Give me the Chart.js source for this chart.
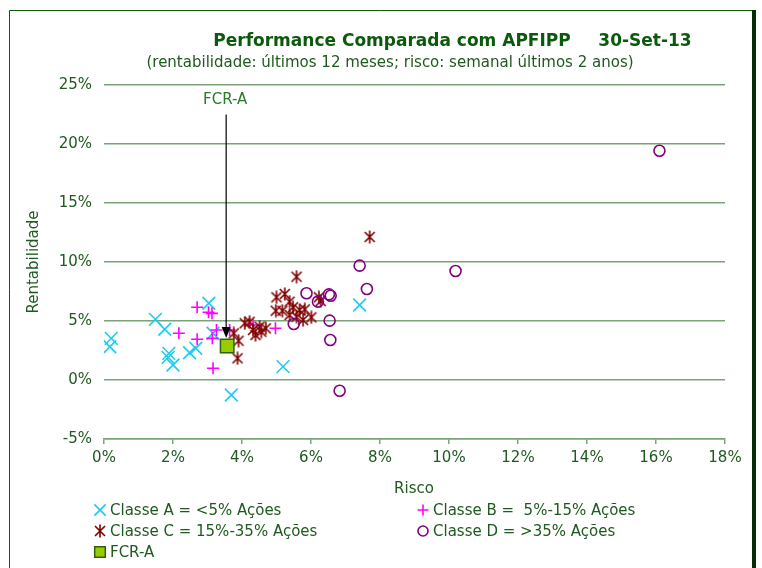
<!DOCTYPE html>
<html>
<head>
<meta charset="utf-8">
<script src="https://cdn.jsdelivr.net/npm/chart.js@4.4.0/dist/chart.umd.min.js"></script>
<style>
  html, body { margin: 0; padding: 0; background: #fff; }
  #wrap { width: 762px; height: 568px; position: relative; }
</style>
</head>
<body>
<div id="wrap"><canvas id="perfChart" width="762" height="568"></canvas></div>
<script>
// risco (%), rentabilidade (%)
var classeA = [[0.21, 3.53], [0.17, 2.82], [1.49, 5.14], [1.76, 4.30], [1.88, 2.26], [1.86, 1.92],
	[2.00, 1.27], [2.48, 2.31], [2.66, 2.69], [3.04, 6.50], [3.16, 3.96], [3.69, -1.27],
	[5.19, 1.13], [7.41, 6.36]];
var classeB = [[2.70, 6.16], [3.03, 5.74], [3.13, 5.65], [2.17, 3.96], [2.70, 3.45], [3.26, 4.24],
	[3.14, 3.53], [3.16, 0.99], [4.97, 4.38], [4.32, 4.66], [3.64, 4.24]];
var classeC = [[7.70, 12.12], [5.58, 8.75], [5.00, 7.01], [5.24, 7.29], [5.38, 6.64], [4.98, 5.87],
	[5.17, 5.87], [5.48, 6.16], [5.67, 5.93], [5.82, 5.99], [5.38, 5.51], [5.58, 5.36],
	[6.01, 5.31], [5.77, 5.08], [6.23, 7.01], [6.28, 6.69], [4.08, 4.81], [4.22, 4.94],
	[4.32, 4.24], [4.39, 3.81], [3.76, 3.96], [3.90, 3.33], [3.87, 1.84], [4.51, 4.52],
	[4.69, 4.38], [4.56, 4.09]];
var classeD = [[16.10, 19.43], [10.19, 9.24], [7.41, 9.69], [7.62, 7.71], [6.52, 7.26], [6.57, 7.14],
	[6.20, 6.64], [5.87, 7.35], [5.50, 4.75], [6.54, 5.03], [6.56, 3.39], [6.83, -0.91]];
var fcrA = [[3.57, 2.88]];

var xTicks = [0, 2, 4, 6, 8, 10, 12, 14, 16, 18];
var yTicks = [-5, 0, 5, 10, 15, 20, 25];

var legendLabels = ['Classe A = <5% Ações', 'Classe B =  5%-15% Ações', 'Classe C = 15%-35% Ações',
	'Classe D = >35% Ações', 'FCR-A'];

var txtGreen = '#1e5a1e';
var gridGreen = '#7aa37a';
var fontFam = '"DejaVu Sans"';

function toPoints(arr) {
	return arr.map(function (p) { return { x: p[0], y: p[1] }; });
}

// marcador estrela do excel (X com barra vertical)
function makeStar(color) {
	var c = document.createElement('canvas');
	c.width = 14; c.height = 14;
	var g = c.getContext('2d');
	g.strokeStyle = color;
	g.lineWidth = 1.6;
	g.beginPath();
	g.moveTo(2, 2); g.lineTo(12, 12);
	g.moveTo(12, 2); g.lineTo(2, 12);
	g.moveTo(7, 0.5); g.lineTo(7, 13.5);
	g.stroke();
	return c;
}
var starC = makeStar('#800000');

var datasets = [
	{ data: toPoints(classeA), pointStyle: 'crossRot', radius: 9, borderColor: '#1ecbf0', borderWidth: 1.6, order: 5 },
	{ data: toPoints(classeB), pointStyle: 'cross', radius: 6, borderColor: '#ff00ff', borderWidth: 1.6, order: 4 },
	{ data: toPoints(classeC), pointStyle: starC, radius: 7, borderColor: '#800000', order: 3 },
	{ data: toPoints(classeD), pointStyle: 'circle', radius: 5.5, borderColor: '#800080', backgroundColor: 'rgba(0,0,0,0)', borderWidth: 1.6, order: 2 },
	{ data: toPoints(fcrA), pointStyle: 'rect', radius: 9.5, borderColor: '#2f5f0f', backgroundColor: '#99cc00', borderWidth: 1.5, order: 1 }
];

var framePlugin = {
	id: 'frame',
	beforeDraw: function (chart) {
		var ctx = chart.ctx;
		ctx.save();
		ctx.strokeStyle = '#0b5a0b';
		ctx.lineWidth = 1;
		ctx.beginPath();
		ctx.moveTo(9.5, 568); ctx.lineTo(9.5, 10.5); ctx.lineTo(752, 10.5);
		ctx.stroke();
		ctx.fillStyle = '#062d06';
		ctx.fillRect(752, 10, 4, 558);
		// titulos
		ctx.fillStyle = '#0b5a0b';
		ctx.textBaseline = 'middle';
		ctx.textAlign = 'center';
		ctx.font = 'bold 17px ' + fontFam;
		ctx.fillText('Performance Comparada com APFIPP', 392, 42);
		ctx.fillText('30-Set-13', 645, 42);
		ctx.fillStyle = txtGreen;
		ctx.font = '15px ' + fontFam;
		ctx.fillText('(rentabilidade: últimos 12 meses; risco: semanal últimos 2 anos)', 390, 63);
		// titulos dos eixos
		ctx.fillText('Risco', 414, 489);
		ctx.translate(34, 262);
		ctx.rotate(-Math.PI / 2);
		ctx.fillText('Rentabilidade', 0, 0);
		ctx.restore();
	},
	afterDraw: function (chart) {
		var ctx = chart.ctx;
		var xs = chart.scales.x, ys = chart.scales.y;
		var px = xs.getPixelForValue(fcrA[0][0]);
		var py = ys.getPixelForValue(fcrA[0][1]);
		var top = ys.getPixelForValue(22.5);
		ctx.save();
		// seta FCR-A
		ctx.strokeStyle = '#000';
		ctx.fillStyle = '#000';
		ctx.lineWidth = 1.2;
		ctx.beginPath();
		ctx.moveTo(px - 1, top); ctx.lineTo(px - 1, py - 18);
		ctx.stroke();
		ctx.beginPath();
		ctx.moveTo(px - 1, py - 8); ctx.lineTo(px - 5.5, py - 19); ctx.lineTo(px + 3.5, py - 19);
		ctx.closePath();
		ctx.fill();
		ctx.fillStyle = '#2a7a2a';
		ctx.font = '15px ' + fontFam;
		ctx.textAlign = 'center';
		ctx.textBaseline = 'middle';
		ctx.fillText('FCR-A', px - 2, ys.getPixelForValue(23.7));

		// legenda
		var pos = [[100, 510], [423, 510], [100, 531], [423, 531], [100, 552]];
		ctx.textAlign = 'left';
		for (var i = 0; i < datasets.length; i++) {
			var ds = datasets[i];
			var r = [8, 5.5, 7, 5, 7.5][i];
			ctx.strokeStyle = ds.borderColor;
			ctx.fillStyle = ds.backgroundColor || ds.borderColor;
			ctx.lineWidth = ds.borderWidth || 1.5;
			Chart.helpers.drawPoint(ctx, { pointStyle: ds.pointStyle, radius: r, borderWidth: ctx.lineWidth }, pos[i][0], pos[i][1]);
			ctx.fillStyle = txtGreen;
			ctx.fillText(legendLabels[i], pos[i][0] + 10, pos[i][1] + 1);
		}
		ctx.restore();
	}
};

new Chart(document.getElementById('perfChart'), {
	type: 'scatter',
	data: { datasets: datasets },
	options: {
		responsive: false,
		animation: false,
		events: [],
		layout: { padding: { top: 85, right: 37, left: 0, bottom: 0 } },
		plugins: { legend: { display: false }, tooltip: { enabled: false } },
		scales: {
			x: {
				type: 'linear', min: 0, max: 18,
				afterBuildTicks: function (s) { s.ticks = xTicks.map(function (v) { return { value: v }; }); },
				afterFit: function (s) { s.height = 568 - 439; },
				ticks: { color: txtGreen, font: { family: 'DejaVu Sans', size: 15 }, padding: 5,
					callback: function (v) { return v + '%'; } },
				grid: { drawOnChartArea: false, drawTicks: true, tickLength: 5, color: gridGreen, lineWidth: 1.5 },
				border: { display: true, color: gridGreen, width: 1.5 }
			},
			y: {
				type: 'linear', min: -5, max: 25,
				afterBuildTicks: function (s) { s.ticks = yTicks.map(function (v) { return { value: v }; }); },
				afterFit: function (s) { s.width = 104; },
				ticks: { color: txtGreen, font: { family: 'DejaVu Sans', size: 15 }, padding: 12,
					callback: function (v) { return v + '%'; } },
				grid: { drawTicks: false, color: gridGreen, lineWidth: 1.5 },
				border: { display: false }
			}
		}
	},
	plugins: [framePlugin]
});
</script>
</body>
</html>
